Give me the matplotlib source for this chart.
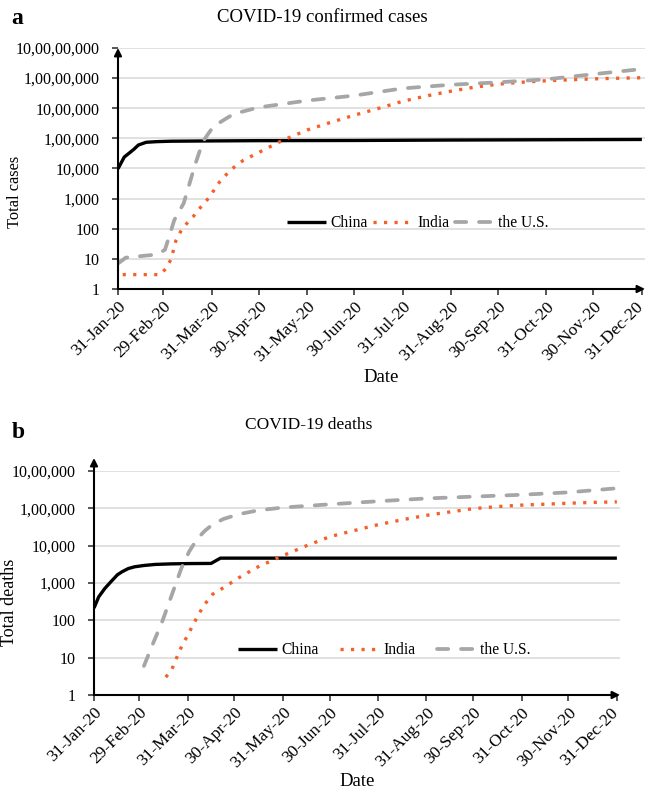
import datetime as dt
import matplotlib
matplotlib.use("Agg")
import matplotlib.pyplot as plt
import matplotlib.dates as mdates
import matplotlib.transforms as mtransforms
from matplotlib.lines import Line2D

plt.rcParams['font.family'] = ['Liberation Serif', 'DejaVu Serif']

# ---------------- data ----------------
china_cases_dates = ["2020-01-31", "2020-02-04", "2020-02-10", "2020-02-13", "2020-02-18", "2020-02-25",
                     "2020-03-05", "2020-03-31", "2020-04-30", "2020-06-30", "2020-08-31", "2020-10-31", "2020-12-31"]
china_cases = [9800, 24000, 42700, 60000, 74200, 78000, 80500, 82300, 84000, 85200, 88000, 90000, 92000]

india_cases_dates = ["2020-02-03", "2020-02-27", "2020-03-02", "2020-03-05", "2020-03-08", "2020-03-11", "2020-03-15",
                     "2020-03-19", "2020-03-24", "2020-03-29", "2020-04-05", "2020-04-12", "2020-04-20", "2020-04-30",
                     "2020-05-15", "2020-05-31", "2020-06-15", "2020-06-30", "2020-07-15", "2020-07-31", "2020-08-15",
                     "2020-08-31", "2020-09-15", "2020-09-30", "2020-10-15", "2020-10-31", "2020-11-15", "2020-11-30",
                     "2020-12-15", "2020-12-31"]
india_cases = [3, 3, 5, 10, 40, 80, 150, 250, 530, 1050, 3600, 9000, 18500, 34000, 85000, 190000, 340000, 585000,
               970000, 1700000, 2550000, 3700000, 5000000, 6300000, 7300000, 8200000, 8800000, 9450000, 9900000,
               10300000]

us_cases_dates = ["2020-01-31", "2020-02-05", "2020-02-25", "2020-03-01", "2020-03-03", "2020-03-07", "2020-03-13",
                  "2020-03-17", "2020-03-20", "2020-03-23", "2020-03-26", "2020-04-01", "2020-04-14", "2020-04-30",
                  "2020-05-31", "2020-06-30", "2020-07-31", "2020-08-31", "2020-09-30", "2020-10-31", "2020-11-30",
                  "2020-12-31"]
us_cases = [7, 11, 14, 20, 42, 195, 700, 3500, 12000, 35000, 89000, 250000, 650000, 1070000, 1800000, 2630000,
            4560000, 6030000, 7230000, 9120000, 13500000, 20000000]

china_deaths_dates = ["2020-01-31", "2020-02-03", "2020-02-07", "2020-02-11", "2020-02-15", "2020-02-18", "2020-02-22",
                      "2020-02-26", "2020-03-03", "2020-03-10", "2020-03-20", "2020-03-31", "2020-04-15", "2020-04-21",
                      "2020-06-30", "2020-12-31"]
china_deaths = [213, 425, 720, 1100, 1660, 2004, 2440, 2715, 2946, 3140, 3250, 3310, 3345, 4632, 4634, 4634]

india_deaths_dates = ["2020-03-17", "2020-03-21", "2020-03-26", "2020-03-31", "2020-04-05", "2020-04-10", "2020-04-16",
                      "2020-04-23", "2020-05-03", "2020-05-15", "2020-05-31", "2020-06-15", "2020-06-30", "2020-07-15",
                      "2020-07-31", "2020-08-15", "2020-08-31", "2020-09-15", "2020-09-30", "2020-10-15", "2020-10-31",
                      "2020-11-15", "2020-11-30", "2020-12-15", "2020-12-31"]
india_deaths = [3, 5, 16, 40, 100, 240, 500, 750, 1400, 2700, 5400, 9900, 17400, 25000, 36500, 49000, 65000, 80000,
                98000, 111000, 122000, 129000, 137000, 144000, 149000]

us_deaths_dates = ["2020-03-03", "2020-03-09", "2020-03-15", "2020-03-21", "2020-03-27", "2020-04-01", "2020-04-06",
                   "2020-04-11", "2020-04-16", "2020-04-23", "2020-05-03", "2020-05-15", "2020-05-31", "2020-06-30",
                   "2020-07-31", "2020-08-31", "2020-09-30", "2020-10-31", "2020-11-30", "2020-12-31"]
us_deaths = [6, 25, 100, 500, 2500, 7000, 15000, 25000, 37000, 52000, 70000, 88000, 105000, 128000, 155000, 184000,
             206000, 231000, 268000, 345000]

month_ends = ["2020-01-31", "2020-02-29", "2020-03-31", "2020-04-30", "2020-05-31", "2020-06-30", "2020-07-31",
              "2020-08-31", "2020-09-30", "2020-10-31", "2020-11-30", "2020-12-31"]

cases_ticks = [1, 10, 100, 1000, 10000, 100000, 1000000, 10000000, 100000000]
cases_ticklabels = ["1", "10", "100", "1,000", "10,000", "1,00,000", "10,00,000", "1,00,00,000", "10,00,00,000"]
deaths_ticks = [1, 10, 100, 1000, 10000, 100000, 1000000]
deaths_ticklabels = ["1", "10", "100", "1,000", "10,000", "1,00,000", "10,00,000"]

series_names = ["China", "India", "the U.S."]

# ---------------- style ----------------
W, H = 646, 794
C_CHINA = "black"
C_INDIA = "#F5602A"
C_US = "#A6A6A6"
C_AXIS = "#3A3A3A"
GRID = "#D9D9D9"


def d(s):
    return dt.datetime.strptime(s, "%Y-%m-%d")


def px(x, y):
    return x / W, 1 - y / H


def style_kwargs(name):
    if name == "China":
        return dict(color=C_CHINA, lw=2.4, solid_capstyle='butt', solid_joinstyle='round')
    if name == "India":
        return dict(color=C_INDIA, lw=2.4, linestyle=(0, (0.95, 2.2)), dash_capstyle='butt')
    return dict(color=C_US, lw=2.7, linestyle=(0, (3.0, 3.4)), dash_capstyle='round')


fig = plt.figure(figsize=(W / 100, H / 100), dpi=100)


def make_panel(rect, data, ticks, ticklabels, ytop_arrow, legend_xy, colspacing):
    ax = fig.add_axes(rect)
    for name, (dates, vals) in zip(series_names, data):
        ax.plot([d(s) for s in dates], vals, **style_kwargs(name))
    ax.set_yscale('log')
    ax.set_ylim(ticks[0], ticks[-1])
    ax.set_yticks(ticks)
    ax.set_yticklabels(ticklabels)
    ax.yaxis.set_minor_locator(matplotlib.ticker.NullLocator())
    ax.set_xlim(d("2020-01-31"), d("2021-01-02"))
    ax.set_xticks([d(s) for s in month_ends])
    ax.xaxis.set_major_formatter(mdates.DateFormatter("%d-%b-%y"))
    ax.tick_params(axis='both', direction='out', length=4, width=1.2, color=C_AXIS,
                   labelcolor='black')
    ax.tick_params(axis='y', labelsize=11.5, pad=9)
    ax.tick_params(axis='x', labelsize=12.5, pad=3)
    labs = ax.get_xticklabels()
    for lab in labs:
        lab.set_rotation(45)
        lab.set_ha('right')
        lab.set_rotation_mode('anchor')
    shift = mtransforms.ScaledTranslation(-7 / 100, 0, fig.dpi_scale_trans)
    labs[-1].set_transform(labs[-1].get_transform() + shift)
    ax.yaxis.grid(True, color=GRID, lw=1.1)
    ax.set_axisbelow(True)
    for sp in ax.spines.values():
        sp.set_visible(False)
    ap = dict(arrowstyle='-|>', color='black', lw=1.5, mutation_scale=11, shrinkA=0, shrinkB=0)
    ax.annotate('', xy=(0, ytop_arrow), xytext=(0, 0), xycoords='axes fraction', arrowprops=ap, annotation_clip=False)
    ax.annotate('', xy=(1.0, 0), xytext=(0, 0), xycoords='axes fraction', arrowprops=ap, annotation_clip=False)
    handles = [Line2D([], [], **style_kwargs(n)) for n in series_names]
    fig.legend(handles, series_names, loc='center left', bbox_to_anchor=px(*legend_xy), ncol=3, frameon=False,
               fontsize=11.2, handlelength=2.5, handletextpad=0.3, columnspacing=colspacing, borderpad=0,
               borderaxespad=0)
    return ax


# panel a
ax1 = make_panel([118 / W, 1 - 289 / H, (645 - 118) / W, 241 / H],
                 [(china_cases_dates, china_cases), (india_cases_dates, india_cases), (us_cases_dates, us_cases)],
                 cases_ticks, cases_ticklabels, 1.0, (287, 223), 0.35)
# panel b
ax2 = make_panel([94 / W, 1 - 695 / H, (620 - 94) / W, 224 / H],
                 [(china_deaths_dates, china_deaths), (india_deaths_dates, india_deaths), (us_deaths_dates, us_deaths)],
                 deaths_ticks, deaths_ticklabels, 1.058, (238, 650), 1.35)

fig.text(*px(17, 18), "a", fontsize=17, fontweight='bold', ha='center', va='center')
fig.text(*px(18, 432), "b", fontsize=17, fontweight='bold', ha='center', va='center')
fig.text(*px(322, 18), "COVID-19 confirmed cases", fontsize=13.5, ha='center', va='center')
fig.text(*px(309, 425), "COVID-19 deaths", fontsize=12.5, ha='center', va='center')
fig.text(*px(15, 192), "Total cases", fontsize=11.8, rotation=90, ha='center', va='center')
fig.text(*px(10, 602), "Total deaths", fontsize=13, rotation=90, ha='center', va='center')
fig.text(*px(381, 377), "Date", fontsize=13.5, ha='center', va='center')
fig.text(*px(357, 782), "Date", fontsize=13.5, ha='center', va='center')

fig.savefig("out.png", dpi=100)
